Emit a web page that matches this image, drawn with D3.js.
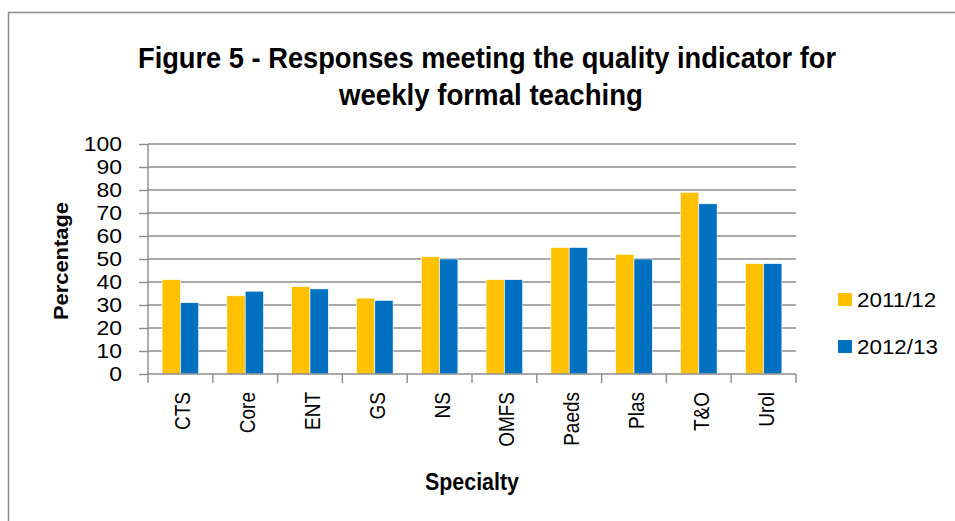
<html>
<head>
<script src='https://d3js.org/d3.v7.min.js'></script>
<style>
    body {margin: 0; background: white;}
    text {font-family: "Liberation Sans", Arial, sans-serif; fill: black;}
    .bold {font-weight: bold; font-family: "Liberation Sans Narrow", "Liberation Sans", Arial, sans-serif;}
</style>
</head>
<body>
<svg width=955 height=521></svg>
<script>
    // data
    var specialties = ["CTS", "Core", "ENT", "GS", "NS", "OMFS", "Paeds", "Plas", "T&O", "Urol"];
    var years = ["2011/12", "2012/13"];
    var vals1112 = [41, 34, 38, 33, 51, 41, 55, 52, 79, 48];
    var vals1213 = [31, 36, 37, 32, 50, 41, 55, 50, 74, 48];
    var yTicks = [0, 10, 20, 30, 40, 50, 60, 70, 80, 90, 100];
    var colors = ["#FFC000", "#0070C0"];

    var svg = d3.select("svg");
    var stretch = 1.12; // text in the picture is a bit wide

    // outer chart border (runs off the right and bottom of the picture)
    svg.append("rect")
        .attr("x", 8.5).attr("y", 12.5)
        .attr("width", 980).attr("height", 540)
        .attr("fill", "none").attr("stroke", "#8a8a8a").attr("stroke-width", 1.5);

    // title, two lines
    svg.append("text").attr("class", "bold")
        .attr("x", 487).attr("y", 68)
        .attr("text-anchor", "middle").attr("font-size", 29)
        .attr("textLength", 698).attr("lengthAdjust", "spacingAndGlyphs")
        .text("Figure 5 - Responses meeting the quality indicator for");
    svg.append("text").attr("class", "bold")
        .attr("x", 491).attr("y", 105)
        .attr("text-anchor", "middle").attr("font-size", 29)
        .attr("textLength", 304).attr("lengthAdjust", "spacingAndGlyphs")
        .text("weekly formal teaching");

    // plot area (window.top is reserved, so use other names)
    var plotLeft = 148, plotRight = 796, plotTop = 144, plotBottom = 374;
    var x = d3.scaleBand().domain(specialties).range([plotLeft, plotRight]);
    var y = d3.scaleLinear().domain([0, 100]).range([plotBottom, plotTop]);
    var inner = d3.scaleBand().domain(years).range([0, 36.6]);

    // gridlines
    svg.append("g").selectAll("line")
        .data(yTicks.slice(1))
        .enter().append("line")
        .attr("x1", plotLeft).attr("x2", plotRight)
        .attr("y1", function(d) { return y(d); })
        .attr("y2", function(d) { return y(d); })
        .attr("stroke", "#8c8c8c").attr("stroke-width", 1.4);

    // bars
    var series = [vals1112, vals1213];
    series.forEach(function(vals, s) {
        svg.append("g").selectAll("rect")
            .data(vals)
            .enter().append("rect")
            .attr("x", function(d, i) { return x(specialties[i]) + x.bandwidth()/2 - 18.3 + inner(years[s]); })
            .attr("y", function(d) { return y(d); })
            .attr("width", inner.bandwidth())
            .attr("height", function(d) { return y(0) - y(d); })
            .attr("fill", colors[s])
            .attr("stroke", "#ffffff").attr("stroke-width", 0.6);
    });

    // y axis
    var yAxis = d3.axisLeft(y).tickValues(yTicks).tickSize(9).tickFormat(d3.format("d"));
    var yg = svg.append("g")
        .attr("transform", "translate(" + plotLeft + ",0)")
        .call(yAxis);
    yg.select(".domain").attr("stroke", "#8c8c8c").attr("stroke-width", 1.4).attr("d", "M0," + plotTop + "V" + plotBottom);
    yg.selectAll(".tick line").attr("stroke", "#8c8c8c").attr("stroke-width", 1.4);
    yg.selectAll(".tick text").remove();
    // tick labels drawn by hand so they can be stretched like the original
    svg.append("g").selectAll("text")
        .data(yTicks)
        .enter().append("text")
        .attr("transform", function(d) { return "translate(122," + (y(d) + 7.3) + ") scale(" + stretch + ",1)"; })
        .attr("text-anchor", "end").attr("font-size", 20.5)
        .text(function(d) { return d; });

    // x axis, ticks at the category boundaries
    var bounds = specialties.map(function(d) { return x(d); }).concat([plotRight]);
    svg.append("line")
        .attr("x1", plotLeft).attr("x2", plotRight).attr("y1", plotBottom).attr("y2", plotBottom)
        .attr("stroke", "#8c8c8c").attr("stroke-width", 1.4);
    svg.append("g").selectAll("line")
        .data(bounds)
        .enter().append("line")
        .attr("x1", function(d) { return d; }).attr("x2", function(d) { return d; })
        .attr("y1", plotBottom).attr("y2", plotBottom + 9)
        .attr("stroke", "#8c8c8c").attr("stroke-width", 1.4);

    // rotated category labels
    svg.append("g").selectAll("text")
        .data(specialties)
        .enter().append("text")
        .attr("transform", function(d) {
            return "translate(" + (x(d) + x.bandwidth()/2 + 10) + ",392) scale(" + stretch + ",1) rotate(-90)";
        })
        .attr("text-anchor", "end").attr("font-size", 19)
        .text(function(d) { return d; });

    // axis titles
    svg.append("text").attr("class", "bold")
        .attr("transform", "translate(68,261) rotate(-90)")
        .attr("text-anchor", "middle").attr("font-size", 21)
        .attr("textLength", 118).attr("lengthAdjust", "spacingAndGlyphs")
        .text("Percentage");
    svg.append("text").attr("class", "bold")
        .attr("x", 472).attr("y", 490)
        .attr("text-anchor", "middle").attr("font-size", 23)
        .attr("textLength", 94).attr("lengthAdjust", "spacingAndGlyphs")
        .text("Specialty");

    // legend
    var legendY = [293, 340];
    years.forEach(function(yr, i) {
        svg.append("rect")
            .attr("x", 838).attr("y", legendY[i])
            .attr("width", 14).attr("height", 13)
            .attr("fill", colors[i]);
        svg.append("text")
            .attr("transform", "translate(857," + (legendY[i] + 14) + ") scale(" + stretch + ",1)")
            .attr("font-size", 20)
            .text(yr);
    });
</script>
</body>
</html>
